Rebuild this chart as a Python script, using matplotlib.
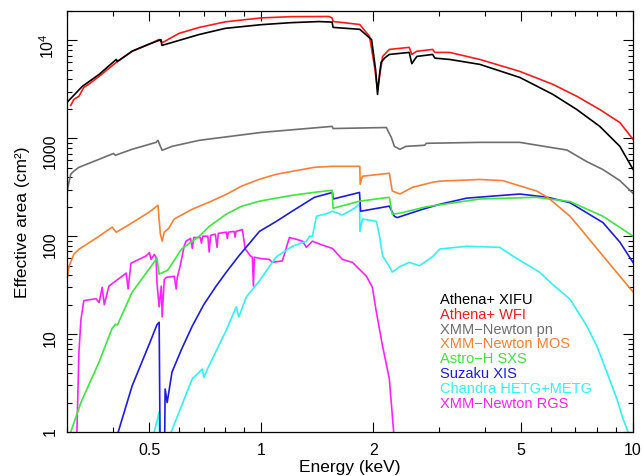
import numpy as np
import matplotlib
matplotlib.use("Agg")
import matplotlib.pyplot as plt
from matplotlib.ticker import FixedLocator, LogLocator, NullFormatter, FixedFormatter

plt.rcParams['font.family'] = ['Liberation Sans', 'DejaVu Sans']
plt.rcParams['mathtext.default'] = 'regular'

# effective area curves, energy (keV) and area (cm^2)
xifu_e = [0.30, 0.33, 0.366, 0.407, 0.41, 0.45, 0.50, 0.537, 0.54, 0.60, 0.68, 0.80, 1.0, 1.2, 1.43,
          1.55, 1.56, 1.84, 1.98, 2.03, 2.054, 2.08, 2.10, 2.145, 2.21, 2.50, 2.54, 2.62, 2.89, 2.93,
          3.21, 3.87, 4.96, 6.09, 7.06, 8.14, 9.22, 10.0]
xifu_a = [2330, 3400, 4500, 6400, 6100, 7800, 9200, 10200, 8900, 10000, 11500, 13300, 14500, 15200, 15600,
          15400, 13600, 13000, 10200, 5000, 2810, 4500, 5970, 6600, 7200, 7550, 5800, 6870, 7200, 6600,
          6400, 5700, 4190, 2810, 1970, 1325, 828, 483]

wfi_e = [0.307, 0.313, 0.323, 0.333, 0.343, 0.366, 0.407, 0.449, 0.50, 0.531, 0.54, 0.55, 0.60, 0.68, 0.80,
         1.0, 1.2, 1.52, 1.55, 1.56, 1.84, 1.955, 2.016, 2.054, 2.12, 2.21, 2.50, 2.54, 2.62, 2.89, 2.93,
         3.21, 3.87, 4.96, 6.09, 7.06, 8.14, 9.22, 10.0]
wfi_a = [2170, 2500, 2690, 3320, 3560, 4300, 5970, 7760, 9200, 10240, 9530, 9800, 11800, 13580, 15500,
         17000, 17500, 17580, 17000, 15630, 14560, 11000, 5430, 3160, 6870, 8100, 8500, 7200, 7760, 8100, 7550,
         7550, 6400, 4830, 3560, 2690, 1970, 1450, 978]

pn_e = [0.30, 0.302, 0.307, 0.313, 0.323, 0.366, 0.40, 0.405, 0.449, 0.521, 0.527, 0.535, 0.541, 0.575,
        0.681, 1.0, 1.55, 1.56, 2.17, 2.24, 2.28, 2.36, 2.45, 2.75, 2.78, 3.87, 4.96, 6.1, 6.64, 7.5,
        8.3, 9.22, 10.0]
pn_a = [268, 323, 430, 463, 506, 611, 700, 672, 773, 910, 955, 828, 755, 828,
        955, 1150, 1325, 1260, 1290, 1010, 828, 773, 828, 850, 890, 910, 910, 800, 760, 580,
        480, 370, 275]

mos_e = [0.30, 0.304, 0.313, 0.323, 0.366, 0.397, 0.407, 0.433, 0.499, 0.527, 0.535, 0.541, 0.548, 0.563,
         0.583, 0.652, 0.724, 0.805, 0.883, 0.988, 1.098, 1.21, 1.39, 1.55, 1.84, 1.845, 1.87, 2.21,
         2.25, 2.36, 2.55, 2.89, 3.02, 3.87, 4.46, 5.5, 5.89, 6.77, 7.51, 8.3, 9.22, 10.0]
mos_a = [36.5, 49.6, 65.5, 73.6, 100, 124, 110, 126, 176, 207, 105, 89, 110, 120,
         150, 189, 223, 268, 324, 382, 430, 460, 506, 518, 518, 340, 410, 440,
         290, 270, 316, 356, 365, 380, 370, 290, 250, 160, 100, 63, 39, 27]

sxs_e = [0.30, 0.307, 0.327, 0.366, 0.397, 0.405, 0.41, 0.449, 0.524, 0.531, 0.56, 0.61, 0.681, 0.724,
         0.805, 0.883, 0.988, 1.21, 1.39, 1.55, 1.56, 1.837, 2.21, 2.25, 2.36, 2.78, 3.87, 5.5, 6.77,
         8.3, 9.22, 10.0]
sxs_a = [0.8, 1.0, 2.0, 5.2, 11.5, 12.6, 12.4, 26.8, 59.7, 41, 45, 74, 100, 126,
         168, 202, 228, 262, 281, 295, 193, 228, 250, 168, 172, 200, 240, 250, 226,
         160, 123, 100]

xis_e = [0.40, 0.412, 0.449, 0.50, 0.524, 0.531, 0.535, 0.548, 0.551, 0.558, 0.575, 0.61, 0.652, 0.70,
         0.756, 0.805, 0.87, 0.93, 0.988, 1.098, 1.21, 1.39, 1.554, 1.56, 1.837, 1.85, 2.21, 2.28, 2.32,
         2.71, 3.02, 3.57, 4.96, 5.89, 6.77, 8.3, 9.22, 10.0]
xis_a = [0.7, 1.0, 2.95, 8.0, 12.5, 13.2, 0.3, 0.3, 2.75, 2.0, 4.1, 7.0, 12.1, 20,
         31, 43, 63, 85, 112, 142, 180, 250, 280, 240, 280, 180, 203, 160, 155,
         188, 212, 245, 270, 250, 220, 138, 87, 54]

hetg_e = [0.50, 0.515, 0.531, 0.534, 0.565, 0.572, 0.652, 0.694, 0.70, 0.72, 0.805, 0.856, 0.87, 0.911,
          0.988, 1.07, 1.10, 1.212, 1.322, 1.347, 1.372, 1.407, 1.497, 1.554, 1.652, 1.759, 1.837,
          1.842, 1.87, 2.04, 2.08, 2.12, 2.21, 2.25, 2.36, 2.50, 2.665, 2.89, 3.02, 3.57, 4.38, 4.74,
          5.6, 6.09, 6.77, 7.51, 8.0, 8.5, 9.05, 9.4, 9.7, 10.0]
hetg_a = [0.6, 1.0, 1.6, 0.3, 0.3, 1.0, 3.5, 4.4, 3.6, 4.6, 11, 19, 15, 24,
          35, 54, 62, 79, 89, 100, 100, 160, 170, 180, 165, 188, 212,
          112, 150, 142, 100, 63, 49, 43, 49, 54, 50, 62, 74, 79, 77, 63,
          43, 32, 22.7, 12.1, 7.5, 4.1, 2.17, 1.36, 1.0, 0.8]

rgs_e = [0.317, 0.319, 0.323, 0.327, 0.333, 0.359, 0.366, 0.373, 0.378, 0.389, 0.433, 0.438, 0.446, 0.49,
         0.50, 0.505, 0.515, 0.521, 0.524, 0.531, 0.538, 0.541, 0.548, 0.555, 0.583, 0.59, 0.594, 0.605,
         0.62, 0.627, 0.645, 0.652, 0.658, 0.672, 0.685, 0.69, 0.695, 0.718, 0.724, 0.73, 0.752, 0.76,
         0.766, 0.805, 0.81, 0.815, 0.845, 0.85, 0.855, 0.889, 0.905, 0.935, 0.946, 0.952, 0.958, 1.0,
         1.051, 1.07, 1.139, 1.19, 1.243, 1.29, 1.322, 1.372, 1.45, 1.554, 1.652, 1.759, 1.918, 1.99,
         2.04, 2.12, 2.21, 2.27, 2.30]
rgs_a = [0.5, 1.0, 6.5, 14, 22, 23, 21, 30, 20, 31, 42, 29, 53, 63,
         68, 58, 65, 61, 33, 19, 31, 15, 36, 38, 39, 29, 38, 50,
         79, 89, 95, 75, 97, 97, 97, 85, 100, 100, 69, 102, 105, 77,
         107, 110, 95, 110, 112, 98, 112, 117, 74, 63, 61, 31, 61, 59,
         58, 54, 56, 97, 93, 89, 77, 89, 82, 75, 58, 54, 39, 30,
         16.7, 7.5, 3.5, 1.0, 0.5]

names = ["Athena+ XIFU", "Athena+ WFI", "XMM\u2212Newton pn", "XMM\u2212Newton MOS",
         "Astro\u2212H SXS", "Suzaku XIS", "Chandra HETG+METG", "XMM\u2212Newton RGS"]
colors = ["#000000", "#ff1a1a", "#6e6e6e", "#ff8033", "#3ee63e", "#1c1ce0", "#33f2f2", "#ff22ff"]
curves = [(xifu_e, xifu_a), (wfi_e, wfi_a), (pn_e, pn_a), (mos_e, mos_a),
          (sxs_e, sxs_a), (xis_e, xis_a), (hetg_e, hetg_a), (rgs_e, rgs_a)]

fig = plt.figure(figsize=(6.44, 4.77), dpi=100)
ax = fig.add_axes([67/644, 44/477, 566/644, 421/477])

# draw last legend entry first so black ends up on top
for (e, a), c in list(zip(curves, colors))[::-1]:
    ax.plot(e, a, color=c, lw=1.2)

ax.set_xscale('log')
ax.set_yscale('log')
ax.set_xlim(0.3, 10)
ax.set_ylim(1, 2e4)

ax.xaxis.set_major_locator(FixedLocator([0.5, 1, 2, 5, 10]))
ax.xaxis.set_major_formatter(FixedFormatter(['0.5', '1', '2', '5', '10']))
ax.xaxis.set_minor_locator(LogLocator(base=10, subs=np.arange(2, 10)))
ax.xaxis.set_minor_formatter(NullFormatter())

ax.yaxis.set_major_locator(FixedLocator([1, 10, 100, 1000, 1e4]))
ax.yaxis.set_major_formatter(FixedFormatter(['1', '10', '100', '1000', '$10^4$']))
ax.yaxis.set_minor_locator(LogLocator(base=10, subs=np.arange(2, 10)))
ax.yaxis.set_minor_formatter(NullFormatter())

ax.tick_params(which='both', direction='in', top=True, right=True, width=0.8)
ax.tick_params(which='major', length=7, labelsize=11.5, pad=7)
ax.tick_params(which='minor', length=3.5)
ax.tick_params(axis='y', labelrotation=90)
for s in ax.spines.values():
    s.set_linewidth(0.9)

ax.set_xlabel("Energy (keV)", fontsize=12.5, labelpad=2)
ax.set_ylabel("Effective area (cm\u00b2)", fontsize=12.5, labelpad=6)

# coloured text legend
for i, (n, c) in enumerate(zip(names, colors)):
    ax.text(0.659, (433 - 300 - 14.8 * i) / 421, n, color=c, fontsize=10.5,
            transform=ax.transAxes, va='center', ha='left')

fig.savefig("out.png", dpi=100)
